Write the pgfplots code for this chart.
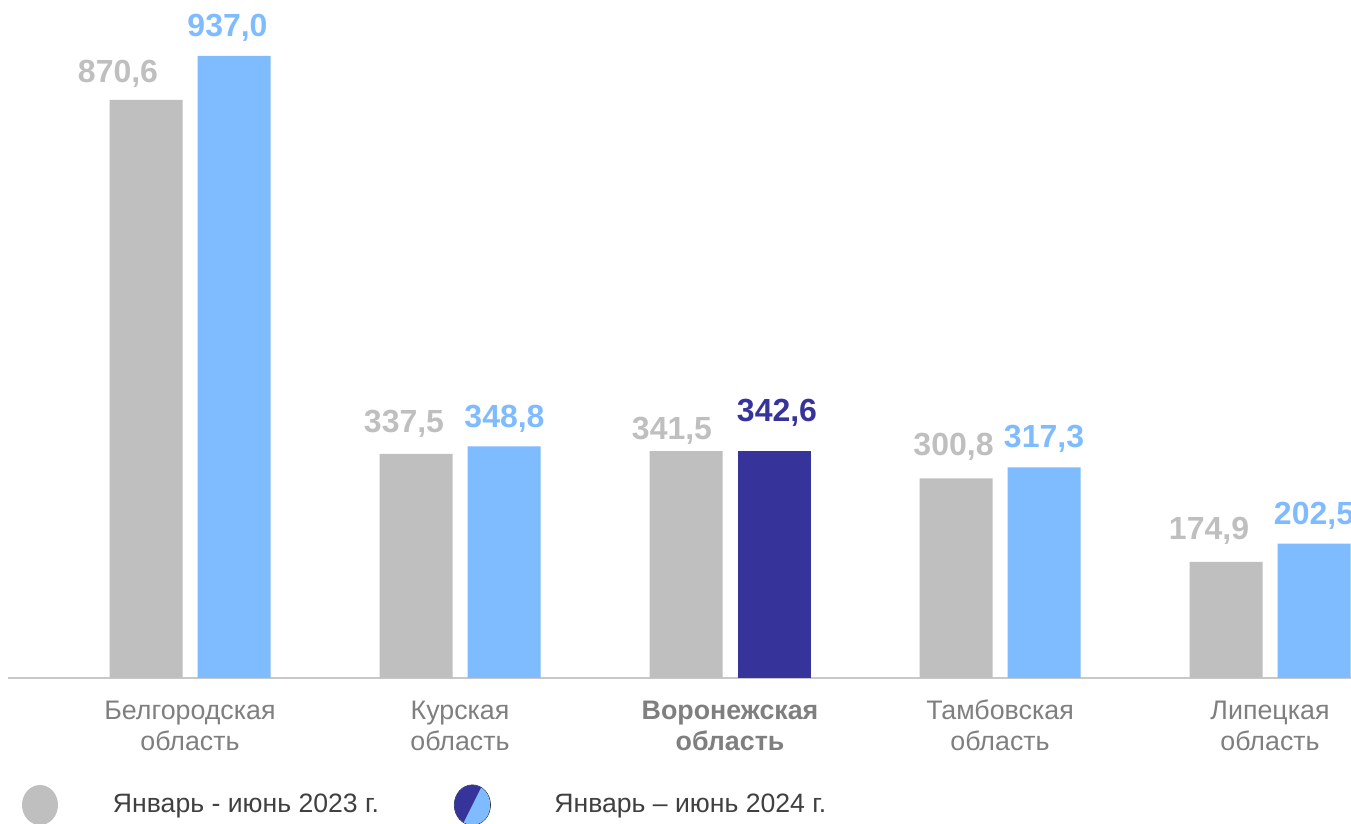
\documentclass[border=0pt]{standalone}
\usepackage{fontspec}
\setmainfont{Liberation Sans}
\usepackage{pgfplots}
\pgfplotsset{compat=1.18}
\usepackage{pgfplotstable}

\definecolor{cgray}{HTML}{BFBFBF}
\definecolor{clight}{HTML}{7FBBFF}
\definecolor{cdark}{HTML}{36339A}
\definecolor{ctick}{HTML}{7F7F7F}
\definecolor{clegend}{HTML}{404040}
\definecolor{caxis}{HTML}{C8C8C8}

\newcommand\st{\rule{0pt}{11pt}}

% x = region index, y = value, dx/dy = label offset in pt
\pgfplotstableread{
x y dx dy
0 870.6 -14 8.5
1 337.5 -6 10.5
2 341.5 -7 6
3 300.8 -1.25 11.5
4 174.9 -8.5 11
}\tabA
\pgfplotstableread{
x y dx dy
0 937.0 -3.25 9.5
1 348.8 0.25 9.5
3 317.3 0 10
4 202.5 0 9.5
}\tabB
\pgfplotstableread{
x y dx dy
2 342.6 1.5 14.5
}\tabC

\pgfplotsset{
  valbar/.style={
    ybar, bar width=36.5pt, draw=none, forget plot,
    visualization depends on={\thisrow{dx}\as\lblx},
    visualization depends on={\thisrow{dy}\as\lbly},
    nodes near coords={\pgfmathprintnumber[fixed,fixed zerofill,precision=1,use comma,assume math mode=true]{\pgfplotspointmeta}},
    every node near coord/.append style={anchor=base, inner sep=0pt,
      xshift=\lblx pt, yshift=\lbly pt,
      font=\fontsize{16}{19}\selectfont\bfseries},
  },
}

\begin{document}
\begin{tikzpicture}
\begin{axis}[
  x=135pt, y=0.332pt,
  xmin=-0.6741, xmax=4.4,
  ymin=0, ymax=1021,
  clip=false,
  axis x line*=bottom,
  hide y axis,
  x axis line style={draw=caxis, line width=1.2pt},
  xtick={0,1,2,3,4},
  major tick length=0pt,
  xticklabels={{\st Белгородская\\область},{\st Курская\\область},{\st\textbf{Воронежская}\\\textbf{область}},{\st Тамбовская\\область},{\st Липецкая\\область}},
  xticklabel style={align=center, anchor=north, inner sep=0pt, yshift=-9.5pt,
    text=ctick, font=\fontsize{13.4}{15.5}\selectfont},
  legend columns=2,
  legend cell align=left,
  legend style={at={(0,0)}, anchor=west, xshift=7pt, yshift=-63.5pt,
    draw=none, fill=none, inner sep=0pt, outer sep=0pt,
    /tikz/every even column/.append style={column sep=37.5pt},
    nodes={inner sep=0pt, anchor=west, text=clegend,
      font=\fontsize{13.3}{15}\selectfont}},
]
\coordinate (o) at (rel axis cs:0,0);
\addplot[valbar, bar shift=-22pt, fill=cgray,
  every node near coord/.append style={text=cgray, xshift=-22pt}] table[x=x,y=y] {\tabA};
\addplot[valbar, bar shift=22pt, fill=clight,
  every node near coord/.append style={text=clight, xshift=22pt}] table[x=x,y=y] {\tabB};
\addplot[valbar, bar shift=22pt, fill=cdark,
  every node near coord/.append style={text=cdark, xshift=22pt}] table[x=x,y=y] {\tabC};

\addlegendimage{legend image code/.code={
  \fill[cgray, draw=none] (9pt,0pt) ellipse[x radius=9pt, y radius=10pt];
  \path[draw=none, fill=none, use as bounding box] (0pt,-10pt) rectangle (45.5pt,10pt);}}
\addlegendentry{Январь - июнь 2023 г.}
\addlegendimage{legend image code/.code={
  \begin{scope}
    \clip (9pt,0pt) ellipse[x radius=9pt, y radius=10pt];
    \fill[clight, draw=none] (0pt,-10pt) rectangle (18pt,10pt);
    \fill[cdark, draw=none] (0pt,-10pt) -- (0pt,10pt) -- (14pt,10pt) -- (4pt,-10pt) -- cycle;
  \end{scope}
  \path[draw=none, fill=none, use as bounding box] (0pt,-10pt) rectangle (50pt,10pt);}}
\addlegendentry{Январь – июнь 2024 г.}
\end{axis}
\pgfresetboundingbox
\useasboundingbox ([shift={(-4pt,-73pt)}]o) rectangle ([shift={(671.5pt,339pt)}]o);
\end{tikzpicture}
\end{document}
